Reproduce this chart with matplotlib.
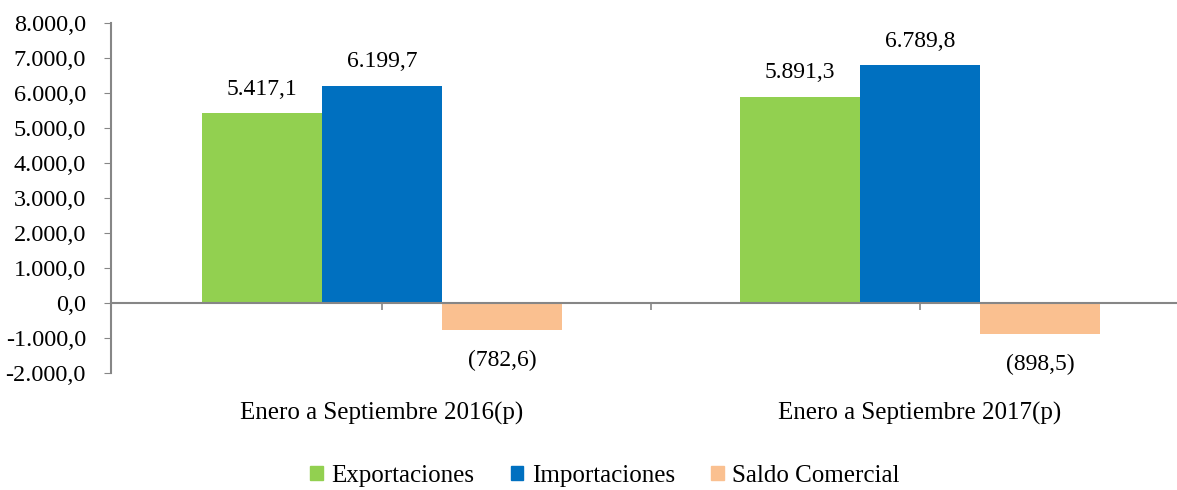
import matplotlib
matplotlib.use("Agg")
import matplotlib.pyplot as plt
from matplotlib.patches import Patch
import numpy as np

categories = ["Enero a Septiembre 2016(p)", "Enero a Septiembre 2017(p)"]
series_names = ["Exportaciones", "Importaciones", "Saldo Comercial"]
exportaciones = [5417.1, 5891.3]
importaciones = [6199.7, 6789.8]
saldo = [-782.6, -898.5]
colors = ["#92D050", "#0070C0", "#FAC090"]
yticks = [-2000, -1000, 0, 1000, 2000, 3000, 4000, 5000, 6000, 7000, 8000]

plt.rcParams['font.family'] = ['Liberation Serif', 'DejaVu Serif']

def fmt(v):
    s = f"{abs(v):,.1f}".replace(",", "X").replace(".", ",").replace("X", ".")
    return f"({s})" if v < 0 else s

fig = plt.figure(figsize=(11.77, 4.90), dpi=100)
ax = fig.add_axes([111/1177, 1-373/490, (1177-111)/1177, 350/490])

x = np.arange(len(categories))
w = 0.223
gray = "#868686"
for i, (vals, c) in enumerate(zip([exportaciones, importaciones, saldo], colors)):
    pos = x + (i - 1) * w
    ax.bar(pos, vals, width=w, color=c, label=series_names[i])
    for p, v in zip(pos, vals):
        if v >= 0:
            ax.text(p, v + 690, fmt(v), ha='center', va='center', fontsize=17)
        else:
            ax.text(p, v - 860, fmt(v), ha='center', va='center', fontsize=17)

ax.set_ylim(-2000, 8000)
ax.set_xlim(-0.5037, 1.478)
ax.set_yticks(yticks)
ax.set_yticklabels([fmt(v) if v >= 0 else "-" + fmt(-v) for v in yticks], fontsize=17.5)
ax.tick_params(axis='y', length=5, color=gray, pad=13)

ax.spines['top'].set_visible(False)
ax.spines['right'].set_visible(False)
ax.spines['bottom'].set_position(('data', 0))
ax.spines['bottom'].set_color(gray)
ax.spines['bottom'].set_linewidth(1.5)
ax.spines['left'].set_color(gray)
ax.spines['left'].set_linewidth(1.5)
ax.set_xticks([0, 0.5, 1])
ax.set_xticklabels([])
ax.tick_params(axis='x', length=5, color=gray, width=1.2)

for xi, cat in zip(x, categories):
    ax.text(xi, -3150, cat, ha='center', va='center', fontsize=18)

handles = [Patch(color=c) for c in colors]
fig.legend(handles, series_names, loc='center', bbox_to_anchor=(605/1177, 1-476/490),
           ncol=3, frameon=False, fontsize=18, handlelength=0.5, handleheight=0.5,
           handletextpad=0.35, columnspacing=1.45)

fig.savefig("out.png", dpi=100)
